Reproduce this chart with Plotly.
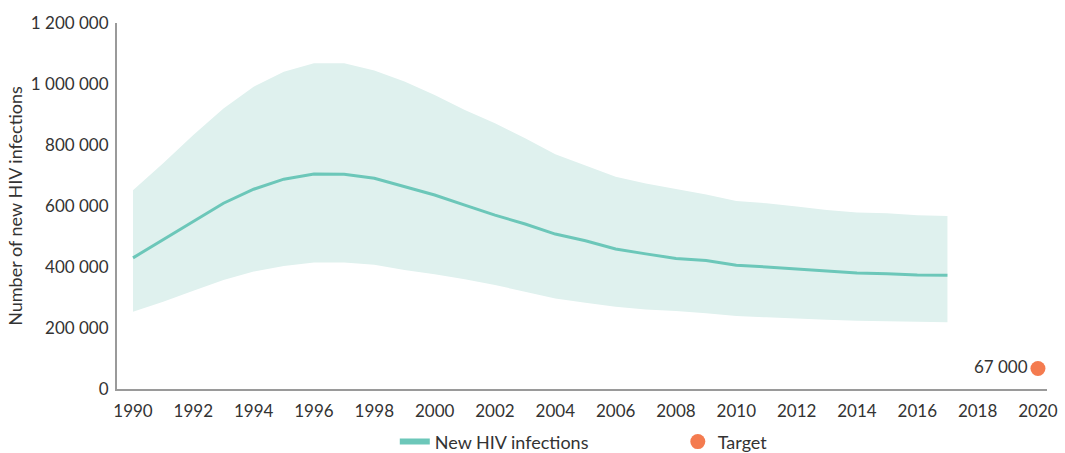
import plotly.graph_objects as go

# Annual estimates of new HIV infections with uncertainty bounds
years = list(range(1990, 2018))
new_infections = [
    430000, 489000, 549000, 609000, 655000, 688000, 705000, 704000, 691000, 663000,
    636000, 603000, 570000, 541000, 508000, 486000, 459000, 443000, 428000, 421000,
    406000, 400000, 393000, 387000, 380000, 378000, 374000, 373000,
]
upper_bound = [
    652000, 740000, 833000, 920000, 991000, 1040000, 1068000, 1068000, 1044000, 1008000,
    964000, 915000, 871000, 822000, 770000, 734000, 696000, 674000, 655000, 638000,
    616000, 609000, 598000, 587000, 579000, 576000, 570000, 567000,
]
lower_bound = [
    253000, 286000, 322000, 357000, 385000, 403000, 415000, 415000, 407000, 390000,
    376000, 360000, 341000, 319000, 297000, 283000, 270000, 261000, 256000, 248000,
    239000, 235000, 230000, 227000, 224000, 222000, 220000, 219000,
]

target_year = [2020]
target_value = [67000]
target_label = ["67 000"]

x_tick_vals = list(range(1990, 2021, 2))
y_tick_vals = [0, 200000, 400000, 600000, 800000, 1000000, 1200000]
y_tick_text = ["0", "200 000", "400 000", "600 000", "800 000", "1 000 000", "1 200 000"]

LINE_COLOR = "#6CC7B9"
BAND_COLOR = "#DFF1EE"
TARGET_COLOR = "#F47B4F"
TEXT_COLOR = "#333333"
FONT = "Lato, 'Open Sans', sans-serif"

fig = go.Figure()

# Uncertainty band
fig.add_trace(go.Scatter(
    x=years, y=lower_bound, mode="lines",
    line=dict(width=0, color=BAND_COLOR),
    showlegend=False, hoverinfo="skip",
))
fig.add_trace(go.Scatter(
    x=years, y=upper_bound, mode="lines",
    line=dict(width=0, color=BAND_COLOR),
    fill="tonexty", fillcolor=BAND_COLOR,
    showlegend=False, hoverinfo="skip",
))

# Central estimate
fig.add_trace(go.Scatter(
    x=years, y=new_infections, mode="lines",
    line=dict(width=3, color=LINE_COLOR),
    name="New HIV infections", showlegend=False,
))
# Legend entry with a thicker swatch
fig.add_trace(go.Scatter(
    x=[None], y=[None], mode="lines",
    line=dict(width=6, color=LINE_COLOR),
    name="New HIV infections",
))

# Target point
fig.add_trace(go.Scatter(
    x=target_year, y=target_value, mode="markers+text",
    marker=dict(size=15, color=TARGET_COLOR),
    text=target_label, textposition="middle left",
    textfont=dict(size=17, color=TEXT_COLOR, family=FONT),
    name="Target",
))

fig.update_layout(
    width=1065, height=453,
    margin=dict(l=117, r=18, t=23, b=64, autoexpand=False),
    paper_bgcolor="white", plot_bgcolor="white",
    font=dict(family=FONT, size=17, color=TEXT_COLOR),
    legend=dict(
        orientation="h", x=0.603, xanchor="center", y=-0.094, yanchor="top",
        traceorder="normal",
        entrywidth=238, entrywidthmode="pixels",
        font=dict(size=18, color=TEXT_COLOR),
        itemwidth=30,
    ),
    xaxis=dict(
        range=[1989.47, 2020.3],
        tickvals=x_tick_vals,
        showgrid=False, zeroline=False,
        showline=True, linecolor="#9A9A9A", linewidth=2,
        ticks="", ticklabelstandoff=6,
        tickfont=dict(size=17, color=TEXT_COLOR),
    ),
    yaxis=dict(
        range=[0, 1200000],
        tickvals=y_tick_vals, ticktext=y_tick_text,
        showgrid=False, zeroline=False,
        showline=True, linecolor="#9A9A9A", linewidth=2,
        ticks="", ticklabelstandoff=3,
        tickfont=dict(size=17, color=TEXT_COLOR),
        title=dict(text="Number of new HIV infections", font=dict(size=18, color=TEXT_COLOR), standoff=4),
    ),
)

fig.write_html("out.html")
